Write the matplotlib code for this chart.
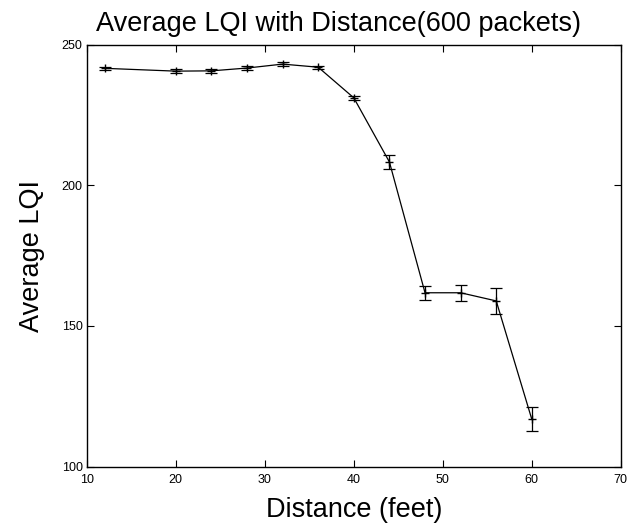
import numpy as np
import matplotlib.pyplot as plt

plt.rcParams['font.family'] = ['Liberation Sans', 'DejaVu Sans']

# distance (feet) and average LQI with spread
distance = [12, 20, 24, 28, 32, 36, 40, 44, 48, 52, 56, 60]
avg_lqi = [241.6, 240.6, 240.7, 241.7, 243.1, 242.0, 231.1, 208.3, 161.8, 161.8, 158.9, 116.8]
lqi_err = [0.6, 0.6, 0.6, 0.6, 0.6, 0.6, 0.8, 2.4, 2.5, 2.9, 4.5, 4.3]

fig = plt.figure(figsize=(6.29, 5.29), dpi=100)
ax = fig.add_axes([0.138, 0.118, 0.849, 0.7975])

ax.errorbar(distance, avg_lqi, yerr=lqi_err, color='black', linewidth=0.9,
            marker='+', markersize=6, capsize=4, elinewidth=0.9, capthick=0.9)

ax.set_xlim(10, 70)
ax.set_ylim(100, 250)
ax.set_xticks([10, 20, 30, 40, 50, 60, 70])
ax.set_yticks([100, 150, 200, 250])
ax.tick_params(direction='in', top=True, right=True, labelsize=9, length=5)
ax.tick_params(axis='x', pad=5)
ax.tick_params(axis='y', pad=3)
for s in ax.spines.values():
    s.set_linewidth(1.0)

ax.set_title('Average LQI with Distance(600 packets)', fontsize=19.5, pad=10, x=0.472)
ax.set_xlabel('Distance (feet)', fontsize=19.5, labelpad=8)
ax.set_ylabel('Average LQI', fontsize=19.5, labelpad=12)

fig.savefig('out.png', dpi=100)
